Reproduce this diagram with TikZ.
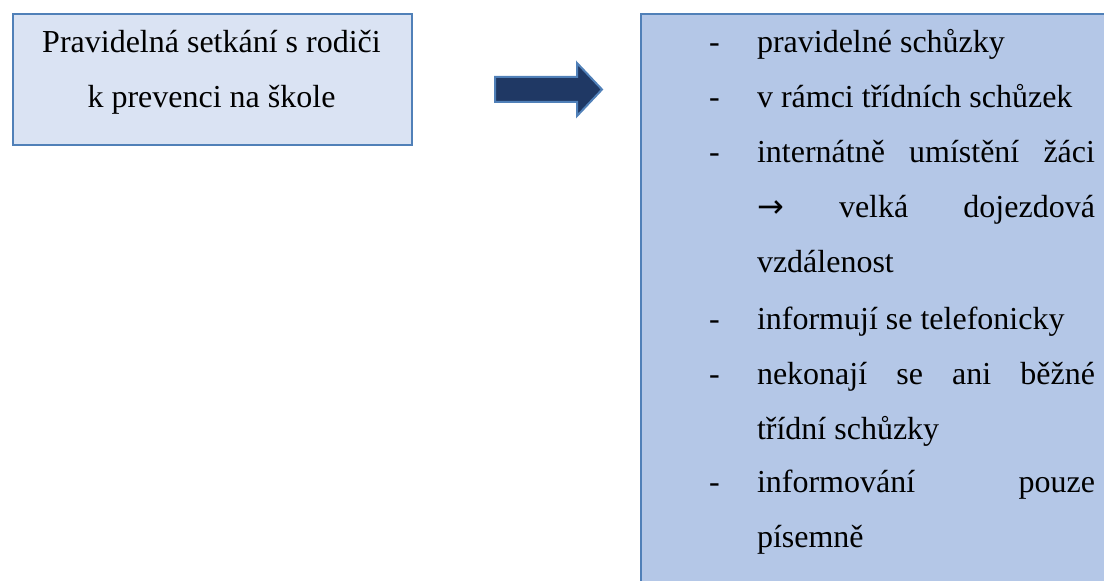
\documentclass[tikz,border=0pt]{standalone}
\usepackage{fontspec}
\setmainfont{Liberation Serif}
\newfontfamily\arrowfont{DejaVu Sans}
\definecolor{boxline}{HTML}{5080B8}
\definecolor{lightfill}{HTML}{DAE3F3}
\definecolor{midfill}{HTML}{B4C7E7}
\definecolor{navy}{HTML}{1F3864}
\begin{document}
\begin{tikzpicture}[x=0.5pt,y=-0.5pt,
  txt/.style={inner sep=0pt,outer sep=0pt,font=\fontsize{16}{19}\selectfont,text=black},
  dashmark/.style={txt,anchor=base west},
  item/.style={txt,anchor=base west},
  boxframe/.style={draw=boxline,line width=1pt}]
\useasboundingbox (0,0) rectangle (1104,581);
\clip (0,0) rectangle (1104,581);
% left box
\node[boxframe,fill=lightfill,minimum width=399\pgflinewidth,inner sep=0pt,anchor=north west,
  minimum width=199.5pt,minimum height=65.5pt] (lbox) at (12,13) {};
\node[txt,anchor=base] (l1) at (211.5,53) {Pravidelná setkání s rodiči};
\node[txt,anchor=base] (l2) at (211.5,108) {k prevenci na škole};
% block arrow
\coordinate (as) at (495,89.5);
\draw[draw=boxline,line width=1pt,fill=navy,line join=miter]
  (495,77) -- (577,77) -- (577,63) -- (602,89.5) -- (577,116) -- (577,102) -- (495,102) -- cycle;
% right box
\node[boxframe,fill=midfill,anchor=north west,inner sep=0pt,
  minimum width=240pt,minimum height=300pt] (rbox) at (640,13) {};
% dashes
\foreach \y/\n in {53/d1,108/d2,163/d3,330/d4,385/d5,493/d6}
  \node[dashmark] (\n) at (709,\y) {-};
% items
\node[item] (i1) at (757,53) {pravidelné schůzky};
\node[item] (i2) at (757,108) {v rámci třídních schůzek};
\node[item] (i3) at (757,163) {\makebox[169pt][l]{internátně\hfill umístění\hfill žáci}};
\node[item] (i4) at (757,218) {\makebox[169pt][l]{{\arrowfont →}\hfill velká\hfill dojezdová}};
\node[item] (i5) at (757,273) {vzdálenost};
\node[item] (i6) at (757,330) {informují se telefonicky};
\node[item] (i7) at (757,385) {\makebox[169pt][l]{nekonají\hfill se\hfill ani\hfill běžné}};
\node[item] (i8) at (757,440) {třídní schůzky};
\node[item] (i9) at (757,493) {\makebox[169pt][l]{informování\hfill pouze}};
\node[item] (i10) at (757,548) {písemně};
\end{tikzpicture}
\end{document}
